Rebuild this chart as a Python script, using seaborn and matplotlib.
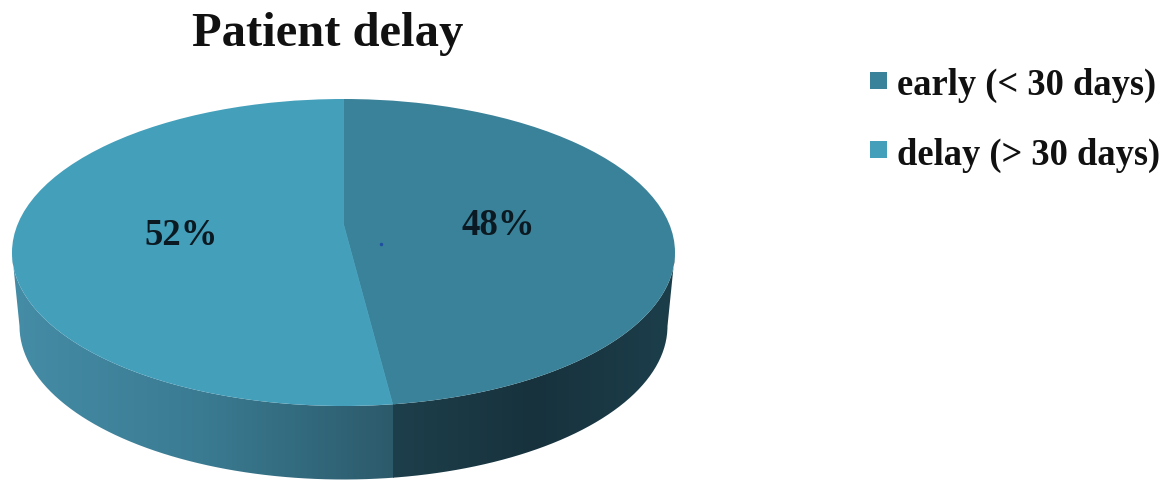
import numpy as np
import matplotlib
matplotlib.use("Agg")
import matplotlib.pyplot as plt
from matplotlib.colors import LinearSegmentedColormap
from matplotlib.patches import PathPatch, Rectangle, Ellipse
from matplotlib.path import Path
from matplotlib.transforms import Affine2D
import seaborn as sns

categories = ["early (< 30 days)", "delay (> 30 days)"]
values = [48, 52]
pct_labels = ["48%", "52%"]
title = "Patient delay"
top_colors = ["#3A8299", "#449FBB"]

sns.set_theme(style="white")
plt.rcParams['font.family'] = ['Liberation Serif', 'DejaVu Serif']

W, H = 1175, 481
CX, CY, RX, RY = 343.5, 253.5, 331.5, 153.5      # top ellipse
RX2, CY2, RY2 = 324.0, 327.0, 153.5              # bottom rim of the wall
VY = 225.0                                       # vanishing vertex of the slices

fig = plt.figure(figsize=(W / 100, H / 100), dpi=100)
ax = fig.add_axes([0, 0, 1, 1])

# top face: pie with its vertex at the perspective centre, clipped to the ellipse
wedges, _ = ax.pie(values, colors=top_colors, startangle=90, counterclock=False,
                   radius=1, center=(0, 0), frame=True, wedgeprops=dict(linewidth=0))
ax.set_xlim(0, W)
ax.set_ylim(H, 0)
ax.set_aspect("auto")
ax.axis("off")

clip = Ellipse((CX, CY), 2 * RX, 2 * RY, fc="none", ec="none", transform=ax.transData)
ax.add_patch(clip)
K = 1.5
tr = Affine2D().scale(K * RX, -K * RY).translate(CX, VY)
for w in wedges:
    w.set_transform(tr + ax.transData)
    w.set_zorder(3)
    w.set_clip_on(True)
    w.set_clip_path(clip)
    w.set_edgecolor(w.get_facecolor())
    w.set_linewidth(0.4)

# where the slice boundary meets the front rim
theta = np.deg2rad(values[0] / sum(values) * 360)
split_x = CX + np.tan(np.pi - theta) * (CY + RY - VY) / RY * RX

# wall: region between the top ellipse and the bottom rim
t = np.linspace(np.pi / 2, 1.5 * np.pi, 200)
top_arc = np.c_[CX + RX * np.sin(t), CY - RY * np.cos(t)]
bot_arc = np.c_[CX + RX2 * np.sin(t), CY2 - RY2 * np.cos(t)]
pts = np.vstack([top_arc, bot_arc[::-1], top_arc[:1]])
wall = PathPatch(Path(pts), fc="none", ec="none", transform=ax.transData)
ax.add_patch(wall)


def gradient(colors, x0, x1):
    cmap = LinearSegmentedColormap.from_list("g", colors)
    im = ax.imshow(np.linspace(0, 1, 256)[None, :], cmap=cmap, aspect="auto",
                   extent=[x0, x1, H, 0], zorder=1)
    im.set_clip_path(wall)


gradient(["#458CA6", "#3A7B92", "#2C5A6B"], CX - RX, split_x)
gradient(["#1D3F4B", "#17323D", "#1C3E4B"], split_x, CX + RX)
ax.set_xlim(0, W)
ax.set_ylim(H, 0)
ax.set_aspect("auto")

ax.text(328, 46, title, ha="center", va="baseline", fontsize=35, fontweight="bold", color="#111111", zorder=5)
ax.text(498, 235, pct_labels[0], ha="center", va="baseline", fontsize=26.5, fontweight="bold", color="#0B1A22", zorder=5)
ax.text(181, 245, pct_labels[1], ha="center", va="baseline", fontsize=26.5, fontweight="bold", color="#0B1A22", zorder=5)
ax.plot([381], [245], marker="o", ms=1.5, color="#1F4FA0", zorder=5)

for cat, col, y0, base in zip(categories, top_colors, [73, 142], [95, 165]):
    ax.add_patch(Rectangle((870, y0), 17, 17, fc=col, ec="none", zorder=5))
    ax.text(897, base, cat, ha="left", va="baseline", fontsize=26.3, fontweight="bold", color="#111111", zorder=5)

fig.savefig("out.png", dpi=100)
